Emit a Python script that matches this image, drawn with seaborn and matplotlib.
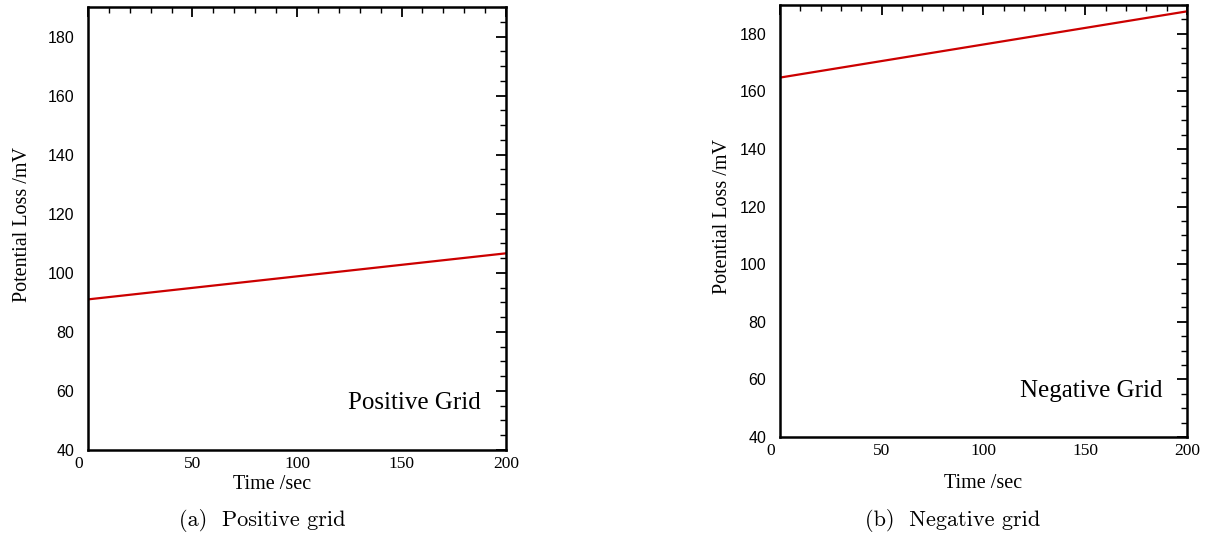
import pandas as pd
import seaborn as sns
import matplotlib.pyplot as plt
from matplotlib.ticker import MultipleLocator, FuncFormatter

# data
time_sec = [0, 200]
positive_loss = [91.0, 106.6]
negative_loss = [164.8, 187.8]

panel_names = ["Positive Grid", "Negative Grid"]
captions = ["(a)  Positive grid", "(b)  Negative grid"]
x_label = "Time /sec"
y_label = "Potential Loss /mV"

sns.set_style("white")
plt.rcParams["font.family"] = ["Liberation Serif", "DejaVu Serif"]
plt.rcParams["text.color"] = "black"
plt.rcParams["axes.labelcolor"] = "black"

fig = plt.figure(figsize=(12.1, 5.39), dpi=100)
ax_pos = fig.add_axes([0.0727, 0.1651, 0.3455, 0.8219])
ax_neg = fig.add_axes([0.6446, 0.1892, 0.3364, 0.8015])

panels = [
    (ax_pos, positive_loss, -0.056, 0.44, -0.135, 262),
    (ax_neg, negative_loss, -0.085, 0.5, -0.118, 953),
]

for i, (ax, loss, xlab_y, xlab_x, ylab_x, cap_x) in enumerate(panels):
    df = pd.DataFrame({"time": time_sec, "loss": loss})
    sns.lineplot(data=df, x="time", y="loss", ax=ax, color="#cc0000", linewidth=1.6)

    ax.set_xlim(0, 200)
    ax.set_ylim(40, 190)
    ax.xaxis.set_major_locator(MultipleLocator(50))
    ax.xaxis.set_minor_locator(MultipleLocator(10))
    ax.yaxis.set_major_locator(MultipleLocator(20))
    ax.yaxis.set_minor_locator(MultipleLocator(5))
    # "0" is drawn separately, a little left of the origin like the original
    ax.xaxis.set_major_formatter(FuncFormatter(lambda v, p: "" if v == 0 else f"{v:.0f}"))

    for s in ax.spines.values():
        s.set_visible(True)
        s.set_linewidth(1.8)
        s.set_color("black")

    ax.tick_params(which="both", direction="in", top=True, right=True, colors="black")
    ax.tick_params(which="major", length=7, width=1.3)
    ax.tick_params(which="minor", length=4.5, width=1.0)
    ax.tick_params(axis="y", which="major", pad=10)
    ax.tick_params(axis="x", which="major", pad=4, labelsize=12.5)
    ax.tick_params(axis="y", which="major", labelsize=11.5, labelfontfamily="Liberation Sans")

    ax.annotate("0", xy=(0, 0), xycoords="axes fraction", xytext=(-6.5, -4),
                textcoords="offset points", ha="center", va="top", fontsize=12.5)

    ax.set_xlabel(x_label, fontsize=14.5)
    ax.set_ylabel(y_label, fontsize=14.5)
    ax.xaxis.set_label_coords(xlab_x, xlab_y)
    ax.yaxis.set_label_coords(ylab_x, 0.51)

    ax.text(0.94, 0.106, panel_names[i], transform=ax.transAxes,
            ha="right", va="center", fontsize=18)

    fig.text(cap_x / 1210, 1 - 520 / 539, captions[i], ha="center", va="center",
             fontsize=16, family=["cmr10", "DejaVu Serif"])

fig.savefig("out.png", dpi=100)
